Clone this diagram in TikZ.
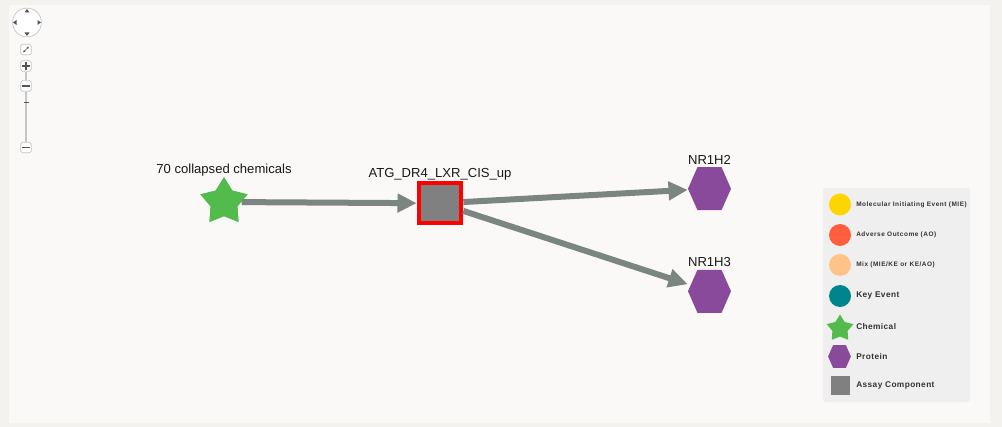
\documentclass[tikz,border=0pt]{standalone}
\usepackage{fontspec}
\setmainfont{Liberation Sans}
\newfontfamily\legendfont[LetterSpace=5]{Liberation Sans}
\newfontfamily\smalllegendfont[LetterSpace=8]{Liberation Sans}
\usetikzlibrary{arrows.meta,positioning}
\usetikzlibrary{shapes}
\usetikzlibrary{calc}
\definecolor{page_bg}{HTML}{F3F2EF}
\definecolor{panel_bg}{HTML}{FAF9F7}
\definecolor{legend_bg}{HTML}{EFEFEF}
\definecolor{edge_grey}{HTML}{7B8682}
\definecolor{chem_green}{HTML}{52BB4C}
\definecolor{prot_purple}{HTML}{894A9B}
\definecolor{assay_grey}{HTML}{808080}
\definecolor{assay_red}{HTML}{FF0000}
\definecolor{mie_yellow}{HTML}{FFD500}
\definecolor{ao_red}{HTML}{FF5E3F}
\definecolor{mix_orange}{HTML}{FFC288}
\definecolor{ke_teal}{HTML}{00858F}
\definecolor{ctrl_grey}{HTML}{C6C6C6}
\definecolor{ctrl_dark}{HTML}{555555}
\definecolor{legend_text}{HTML}{333333}

% hexagon drawn inside the node box
\newcommand{\hexpath}[1]{%
  \fill[#1] (path picture bounding box.west)
    -- ($(path picture bounding box.north west)!0.22!(path picture bounding box.north east)$)
    -- ($(path picture bounding box.north west)!0.78!(path picture bounding box.north east)$)
    -- (path picture bounding box.east)
    -- ($(path picture bounding box.south west)!0.78!(path picture bounding box.south east)$)
    -- ($(path picture bounding box.south west)!0.22!(path picture bounding box.south east)$)
    -- cycle;}

\begin{document}
\begin{tikzpicture}[
	    x=0.025cm, y=-0.025cm,
	    onlytext/.style={inner sep=0, font=\fontsize{9.3}{11}\selectfont, text=black!90},
	    legendtext/.style={inner sep=0, anchor=west, font=\legendfont\bfseries\fontsize{5.9}{7}\selectfont, text=legend_text},
	    smalllegendtext/.style={legendtext, font=\smalllegendfont\bfseries\fontsize{4.6}{6}\selectfont},
	    chemstar/.style={star, star points=5, star point ratio=1.75, minimum size=#1, inner sep=0, fill=chem_green},
	    assaybox/.style={rectangle, minimum width=1.065cm, minimum height=0.99cm, inner sep=0, fill=assay_grey, draw=assay_red, line width=0.1cm},
	    hexbox/.style={rectangle, minimum width=#1, minimum height=#1, inner sep=0, path picture={\hexpath{prot_purple}}},
	    legenddot/.style={circle, minimum size=0.55cm, inner sep=0},
	    legendsquare/.style={rectangle, minimum size=0.47cm, inner sep=0, fill=assay_grey},
	    normalline/.style={-{Triangle[length=0.48cm, width=0.45cm]}, line width=0.15cm, draw=edge_grey},
	    ctrlbutton/.style={rectangle, rounded corners=0.04cm, minimum size=0.26cm, inner sep=0, draw=ctrl_grey, fill=white, line width=0.5pt},
	]
	% Background
	\fill[page_bg] (0,0) rectangle (1002,427);
	\fill[panel_bg] (9,5) rectangle (990,423);

	% Navigation controls
	\node[circle, minimum size=0.72cm, inner sep=0, draw=ctrl_grey, fill=white, line width=0.5pt] (pan) at (27,22.5) {};
	\fill[ctrl_dark] (27,9) -- (24.5,12.5) -- (29.5,12.5) -- cycle;
	\fill[ctrl_dark] (27,36) -- (24.5,32.5) -- (29.5,32.5) -- cycle;
	\fill[ctrl_dark] (13,22.5) -- (16.5,20) -- (16.5,25) -- cycle;
	\fill[ctrl_dark] (41,22.5) -- (37.5,20) -- (37.5,25) -- cycle;

	\node[ctrlbutton] (fitbtn) at (26,49.5) {};
	\draw[{Latex[length=0.06cm, width=0.06cm]}-{Latex[length=0.06cm, width=0.06cm]}, ctrl_dark, line width=0.5pt] ([shift={(-3,3)}]fitbtn.center) -- ([shift={(3,-3)}]fitbtn.center);

	\node[ctrlbutton] (zoomin) at (26,66) {};
	\node[ctrlbutton] (zoomhandle) at (26,86) {};
	\node[ctrlbutton] (zoomout) at (26,147.5) {};
	\draw[ctrl_grey, line width=1.2pt] (zoomin.south) -- (zoomhandle.north);
	\draw[ctrl_grey, line width=1.2pt] (zoomhandle.south) -- (zoomout.north);
	\draw[ctrl_dark, line width=0.6pt] (23.5,102) -- (28.5,102);
	\draw[ctrl_dark, line width=0.8pt] ([xshift=-3]zoomin.center) -- ([xshift=3]zoomin.center);
	\draw[ctrl_dark, line width=0.8pt] ([yshift=-3]zoomin.center) -- ([yshift=3]zoomin.center);
	\draw[ctrl_dark, line width=0.8pt] ([xshift=-3]zoomhandle.center) -- ([xshift=3]zoomhandle.center);
	\draw[ctrl_dark, line width=0.8pt] ([xshift=-3]zoomout.center) -- ([xshift=3]zoomout.center);

	% Network
	\node[chemstar=1.25cm] (chem) at (224,202) {};
	\node[onlytext, above=0.0cm of chem] (chemlabel) {70 collapsed chemicals};

	\node[assaybox] (assay) at (440,203.3) {};
	\node[onlytext, above=0.03cm of assay] (assaylabel) {ATG\_DR4\_LXR\_CIS\_up};

	\node[hexbox=1.075cm] (nrh2) at (709.5,188.7) {};
	\node[onlytext, above=0.06cm of nrh2] (nrh2label) {NR1H2};

	\node[hexbox=1.075cm] (nrh3) at (709.5,291.3) {};
	\node[onlytext, above=0.06cm of nrh3] (nrh3label) {NR1H3};

	% connection lines
	\draw [normalline] (chem) -- (assay);
	\draw [normalline] (assay) -- (nrh2);
	\draw [normalline] (assay) -- (nrh3);

	% Legend
	\fill[legend_bg, rounded corners=0.06cm] (823,188) rectangle (970,402);

	\node[legenddot, fill=mie_yellow] (mie) at (840,204.5) {};
	\node[smalllegendtext] (mielabel) at (856,204.5) {Molecular Initiating Event (MIE)};

	\node[legenddot, fill=ao_red] (ao) at (840,235) {};
	\node[smalllegendtext] (aolabel) at (856,235) {Adverse Outcome (AO)};

	\node[legenddot, fill=mix_orange] (mix) at (840,265) {};
	\node[smalllegendtext] (mixlabel) at (856,265) {Mix (MIE/KE or KE/AO)};

	\node[legenddot, fill=ke_teal] (ke) at (840,296) {};
	\node[legendtext] (kelabel) at (856,296) {Key Event};

	\node[chemstar=0.7cm] (legchem) at (840,328.5) {};
	\node[legendtext] (legchemlabel) at (856,327) {Chemical};

	\node[hexbox=0.57cm] (legprot) at (839.5,356.5) {};
	\node[legendtext] (legprotlabel) at (856,356.5) {Protein};

	\node[legendsquare] (legassay) at (840.5,385.5) {};
	\node[legendtext] (legassaylabel) at (856,385.5) {Assay Component};

\end{tikzpicture}
\end{document}
